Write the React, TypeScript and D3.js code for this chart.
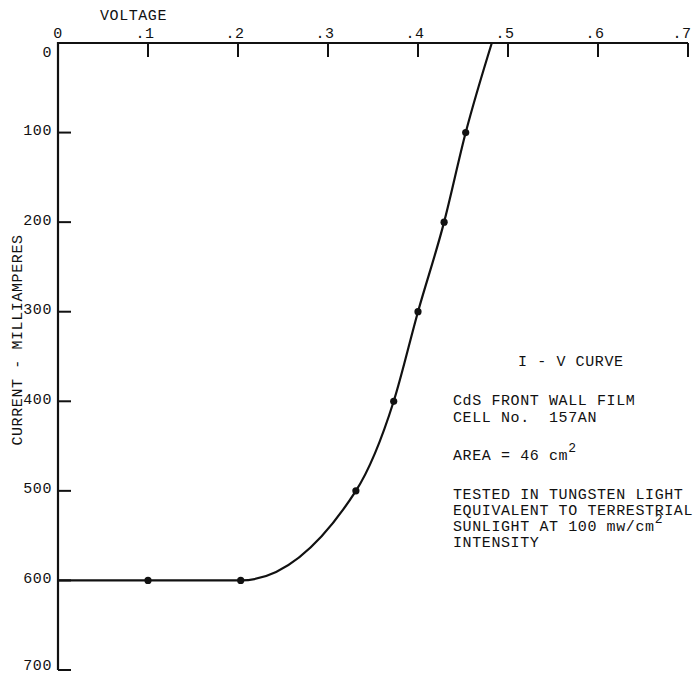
import React from "react";
import * as d3 from "d3";

const xTicks = [0, 0.1, 0.2, 0.3, 0.4, 0.5, 0.6, 0.7];
const xTickLabels = ["0", ".1", ".2", ".3", ".4", ".5", ".6", ".7"];
const yTicks = [0, 100, 200, 300, 400, 500, 600, 700];
const yTickLabels = ["0", "100", "200", "300", "400", "500", "600", "700"];

// I-V curve (voltage, current mA)
const curveV = [0, 0.1, 0.203, 0.331, 0.373, 0.4, 0.429, 0.453, 0.482];
const curveI = [600, 600, 600, 500, 400, 300, 200, 100, 0];
// measured points (marked with dots)
const pointV = [0.1, 0.203, 0.331, 0.373, 0.4, 0.429, 0.453];
const pointI = [600, 600, 500, 400, 300, 200, 100];

const noteLines = [
  "CdS FRONT WALL FILM",
  "CELL No.  157AN",
];
const testLines = [
  "TESTED IN TUNGSTEN LIGHT",
  "EQUIVALENT TO TERRESTRIAL",
];

const W = 695;
const H = 674;
const FONT = "'Liberation Mono', 'DejaVu Sans Mono', monospace";

export default function App() {
  const x = d3.scaleLinear().domain([0, 0.7]).range([58, 688]);
  const y = d3.scaleLinear().domain([0, 700]).range([43, 670]);

  const pts: [number, number][] = curveV.map((v, i) => [v, curveI[i]]);
  const line = d3
    .line<[number, number]>()
    .x((d) => x(d[0]))
    .y((d) => y(d[1]))
    .curve(d3.curveMonotoneX);

  const x0 = x(0);
  const y0 = y(0);

  return (
    <svg
      width={W}
      height={H}
      style={{ position: "absolute", left: 0, top: 0, background: "#fff" }}
      fontFamily={FONT}
      fontSize={15}
      letterSpacing={0.6}
      fill="#111"
    >
      {/* x axis */}
      <line x1={x0} x2={x(0.7)} y1={y0} y2={y0} stroke="#111" strokeWidth={2.2} />
      {xTicks.map((t, i) =>
        i === 0 ? null : (
          <line key={"xt" + i} x1={x(t)} x2={x(t)} y1={y0} y2={y0 + 14} stroke="#111" strokeWidth={2} />
        )
      )}
      {xTicks.map((t, i) => (
        <text
          key={"xl" + i}
          x={x(t) - (i === 0 ? 0 : i === xTicks.length - 1 ? 6 : 3)}
          y={38}
          textAnchor="middle"
        >
          {xTickLabels[i]}
        </text>
      ))}
      <text x={100} y={20} textLength={67}>VOLTAGE</text>

      {/* y axis */}
      <line x1={x0} x2={x0} y1={y0 - 1} y2={y(700)} stroke="#111" strokeWidth={2.2} />
      {yTicks.map((t, i) =>
        i === 0 ? null : (
          <line key={"yt" + i} x1={x0} x2={x0 + 13} y1={y(t)} y2={y(t)} stroke="#111" strokeWidth={2} />
        )
      )}
      {yTicks.map((t, i) => (
        <text
          key={"yl" + i}
          x={52}
          y={y(t) + (i === 0 ? 10 : i === yTicks.length - 1 ? -4 : -1)}
          textAnchor="end"
          dominantBaseline="central"
        >
          {yTickLabels[i]}
        </text>
      ))}
      <text
        transform={`translate(18,${340}) rotate(-90)`}
        textAnchor="middle"
        dominantBaseline="central"
      >
        CURRENT - MILLIAMPERES
      </text>

      {/* curve */}
      <path d={line(pts) || ""} fill="none" stroke="#111" strokeWidth={2.2} />
      {pointV.map((v, i) => (
        <circle key={"p" + i} cx={x(v)} cy={y(pointI[i])} r={3.6} fill="#111" />
      ))}

      {/* annotation */}
      <text x={518} y={362} dominantBaseline="central">I - V CURVE</text>
      {noteLines.map((s, i) => (
        <text key={"n" + i} x={453} y={401 + i * 17} dominantBaseline="central" style={{ whiteSpace: "pre" }}>
          {s}
        </text>
      ))}
      <text x={453} y={456} dominantBaseline="central">
        AREA = 46 cm
        <tspan fontSize={13} dy={-8}>2</tspan>
      </text>
      {testLines.map((s, i) => (
        <text key={"t" + i} x={453} y={495 + i * 16} dominantBaseline="central">
          {s}
        </text>
      ))}
      <text x={453} y={527} dominantBaseline="central">
        SUNLIGHT AT 100 mw/cm
        <tspan fontSize={13} dy={-8}>2</tspan>
      </text>
      <text x={453} y={543} dominantBaseline="central">INTENSITY</text>
    </svg>
  );
}
